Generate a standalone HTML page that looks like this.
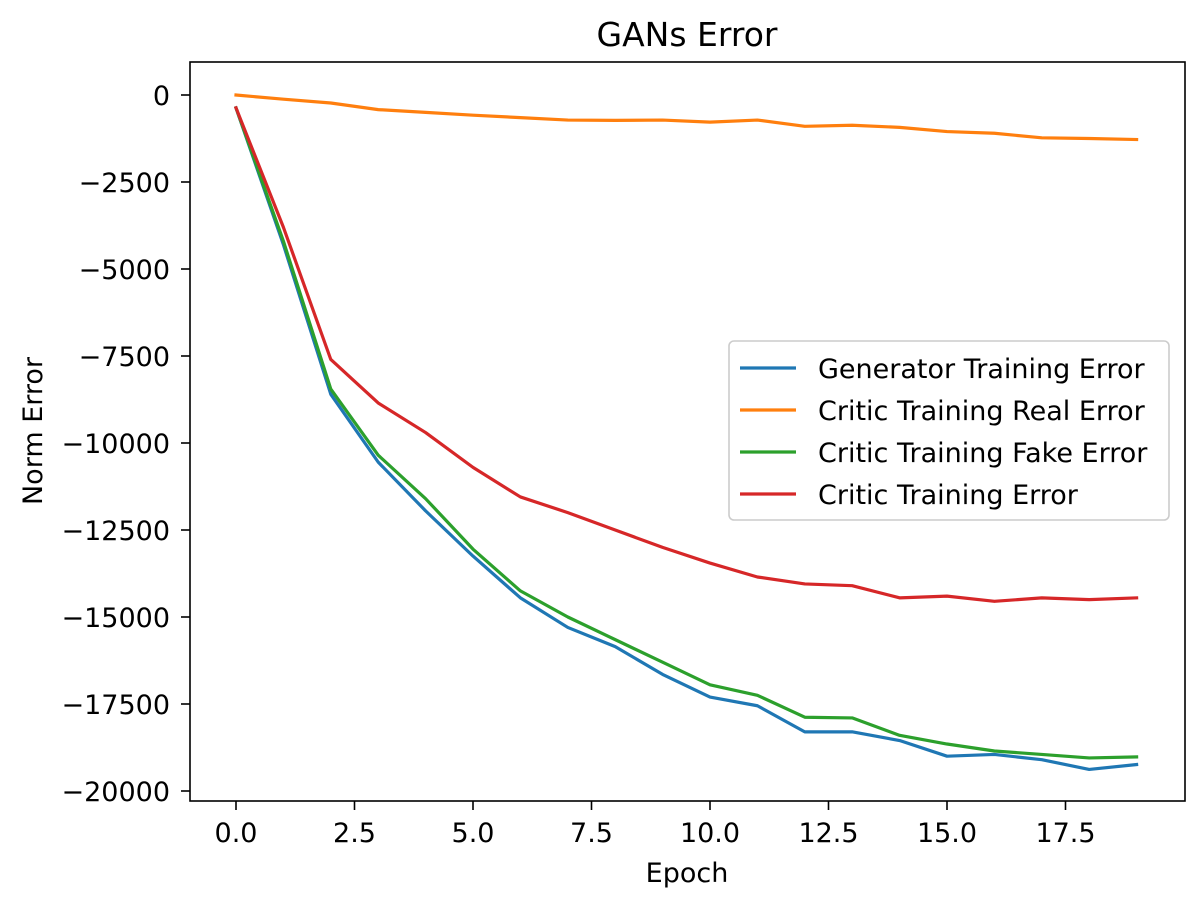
<!DOCTYPE html>
<html><head><meta charset="utf-8"><style>
body{margin:0;background:#fff}
svg{font-family:"DejaVu Sans","Liberation Sans",sans-serif}
</style></head><body>
<svg id="chart" width="1202" height="908" xmlns="http://www.w3.org/2000/svg">
<text x="687" y="46" font-size="33" text-anchor="middle">GANs Error</text>
<g id="plot"></g>
<text x="687" y="882" font-size="27" text-anchor="middle">Epoch</text>
<text x="42" y="431" font-size="27" text-anchor="middle" transform="rotate(-90 42 431)">Norm Error</text>
</svg>
<script>
const epochs=[0,1,2,3,4,5,6,7,8,9,10,11,12,13,14,15,16,17,18,19];
const generatorError=[-370,-4300,-8600,-10550,-11950,-13250,-14450,-15300,-15850,-16650,-17300,-17550,-18300,-18300,-18550,-19000,-18950,-19100,-19380,-19240];
const criticRealError=[0,-120,-230,-420,-500,-580,-650,-720,-730,-720,-780,-720,-900,-870,-930,-1050,-1100,-1230,-1250,-1280];
const criticFakeError=[-370,-4200,-8450,-10350,-11600,-13050,-14250,-15000,-15650,-16300,-16950,-17250,-17880,-17900,-18400,-18650,-18850,-18950,-19050,-19020];
const criticError=[-370,-3800,-7600,-8850,-9700,-10700,-11550,-12000,-12500,-13000,-13450,-13850,-14050,-14100,-14450,-14400,-14550,-14450,-14500,-14450];
const xTicks=[0,2.5,5,7.5,10,12.5,15,17.5];
const xTickLabels=["0.0","2.5","5.0","7.5","10.0","12.5","15.0","17.5"];
const yTicks=[0,-2500,-5000,-7500,-10000,-12500,-15000,-17500,-20000];
const yTickLabels=["0","\u22122500","\u22125000","\u22127500","\u221210000","\u221212500","\u221215000","\u221217500","\u221220000"];
const seriesNames=["Generator Training Error","Critic Training Real Error","Critic Training Fake Error","Critic Training Error"];

const NS="http://www.w3.org/2000/svg";
const L=190,R=1185,T=62,B=801;
const xs=v=>236+v*47.4;
const ys=v=>95-v*696/20000;
const g=document.getElementById('plot');
function mk(t,a){const e=document.createElementNS(NS,t);for(const k in a)e.setAttribute(k,a[k]);g.appendChild(e);return e;}
const colors=["#1f77b4","#ff7f0e","#2ca02c","#d62728"];
const data=[generatorError,criticRealError,criticFakeError,criticError];
const ids=["generator","critic-real","critic-fake","critic"];
data.forEach((s,i)=>{
  const p=mk('polyline',{points:s.map((v,j)=>xs(epochs[j])+','+ys(v)).join(' '),fill:'none',stroke:colors[i],'stroke-width':3.2,'stroke-linejoin':'round','stroke-linecap':'square'});
  
  
});
const frame=mk('rect',{x:L,y:T,width:R-L,height:B-T,fill:'none',stroke:'#000','stroke-width':1.6});


xTicks.forEach((v,i)=>{
  const x=xs(v);
  const t=mk('line',{x1:x,x2:x,y1:B,y2:B+9,stroke:'#000','stroke-width':1.6});
  
  
  const l=mk('text',{x:x,y:842,'font-size':27,'text-anchor':'middle'});l.textContent=xTickLabels[i];
  
  
});
yTicks.forEach((v,i)=>{
  const y=ys(v);
  const t=mk('line',{x1:L-9,x2:L,y1:y,y2:y,stroke:'#000','stroke-width':1.6});
  
  
  const l=mk('text',{x:L-20,y:y+10,'font-size':27,'text-anchor':'end'});l.textContent=yTickLabels[i];
  
  
});
const lg=mk('rect',{x:729,y:341,width:440,height:179,rx:5,fill:'#fff','fill-opacity':0.8,stroke:'#ccc','stroke-width':1.6});


seriesNames.forEach((n,i)=>{
  const y=368+i*42;
  const ln=mk('line',{x1:740,x2:796,y1:y,y2:y,stroke:colors[i],'stroke-width':3.2});
  
  
  const tx=mk('text',{x:818,y:y+10,'font-size':27});tx.textContent=n;
  
  
});
</script>
</body></html>
